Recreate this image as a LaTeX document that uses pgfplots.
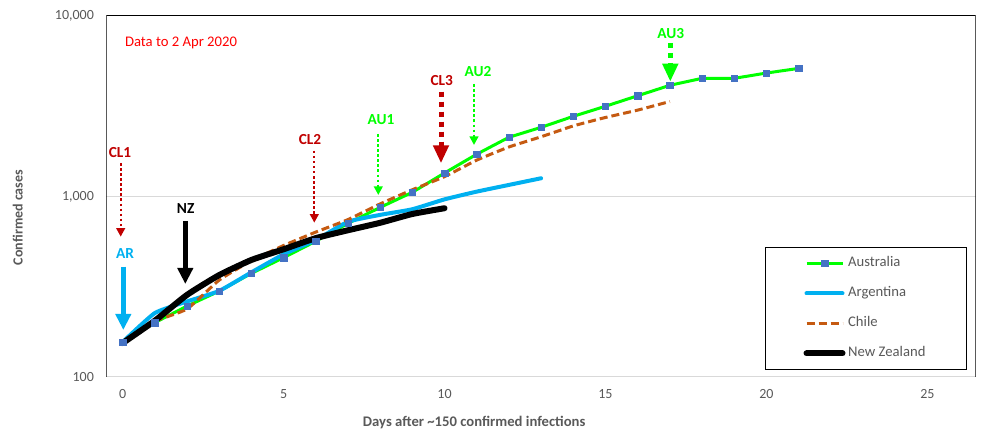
\documentclass[border=0pt]{standalone}
\usepackage{pgfplots}
\pgfplotsset{compat=1.18}
\usepackage{fontspec}
\setmainfont{Carlito}
\usetikzlibrary{arrows.meta}
\definecolor{augreen}{HTML}{00FF00}
\definecolor{arblue}{HTML}{00B0F0}
\definecolor{clorange}{HTML}{C55A11}
\definecolor{markblue}{HTML}{4472C4}
\definecolor{darkred}{HTML}{C00000}
\definecolor{tickgrey}{HTML}{595959}
\definecolor{gridgrey}{HTML}{D9D9D9}
\newcommand\fs{\fontsize{10.5}{12.6}\selectfont}
\newcommand\fsl{\fontsize{11}{13.2}\selectfont}
\newcommand\fsa{\fontsize{11.5}{13.8}\selectfont}
\begin{document}
\begin{tikzpicture}
\useasboundingbox (-79.875pt,-45.75pt) rectangle (673.125pt,282.75pt);
\begin{axis}[
  scale only axis, width=651.9pt, height=270.75pt,
  xmin=-0.5, xmax=26.5,
  ymode=log, ymin=100, ymax=10000,
  xtick={0,5,10,15,20,25},
  ytick={100,1000,10000}, yticklabels={100,{1,000},{10,000}},
  major tick length=0pt, minor tick length=0pt,
  axis line style={draw=none},
  ymajorgrids, grid style={draw=gridgrey, line width=0.75pt},
  tick label style={font=\fs, text=tickgrey},
  /pgf/number format/assume math mode=true,
  xticklabel style={anchor=center, yshift=-12.75pt},
  yticklabel style={anchor=east, xshift=-5.9pt},
  xlabel={Days after \textasciitilde150 confirmed infections},
  xlabel style={at={(axis description cs:0.423,-0.1266)}, anchor=center, font=\bfseries\fsl, text=tickgrey},
  ylabel={Confirmed cases},
  ylabel style={at={(axis description cs:-0.1022,0.4418)}, anchor=center, font=\bfseries\fs, text=tickgrey},
  legend cell align=left,
  legend style={at={(0.7576,0.3601)}, anchor=north west, draw=black, line width=0.75pt,
    inner xsep=28.5pt, inner ysep=7pt, row sep=12.5pt, font=\fsl, text=tickgrey,
    nodes={inner sep=0pt, inner xsep=2pt, text height=7.5pt, text depth=2.5pt}},
  legend image code/.code={\draw[mark repeat=2,mark phase=2,#1] plot coordinates {(0pt,0pt) (13.5pt,0pt) (27pt,0pt)};},
]
\addplot[augreen, line width=2.25pt, mark=square*, mark size=2.4pt, mark options={fill=markblue, draw=markblue, line width=0.3pt, solid}]
coordinates {(0,156) (1,200) (2,247) (3,299) (4,375) (5,458) (6,565) (7,710) (8,870) (9,1055) (10,1349) (11,1715) (12,2128) (13,2416) (14,2780) (15,3162) (16,3615) (17,4130) (18,4515) (19,4515) (20,4830) (21,5125)};
\addlegendentry{Australia}
\addplot[arblue, line width=3pt, line cap=round, smooth, tension=0.3]
coordinates {(0,156) (1,226) (2,262) (3,300) (4,380) (5,478) (6,574) (7,724) (8,791) (9,850) (10,964) (11,1064) (12,1159) (13,1262)};
\addlegendentry{Argentina}
\addplot[clorange, line width=2.25pt, dash pattern=on 6pt off 3pt, smooth, tension=0.3]
coordinates {(1,205) (2,238) (3,344) (4,440) (5,535) (6,635) (7,745) (8,910) (9,1090) (10,1288) (11,1590) (12,1880) (13,2142) (14,2460) (15,2740) (16,3010) (17,3360)};
\addlegendentry{Chile}
\addplot[black, line width=4.5pt, line cap=round, smooth, tension=0.3]
coordinates {(0,154) (1,205) (2,285) (3,367) (4,445) (5,510) (6,588) (7,650) (8,715) (9,800) (10,861)};
\addlegendentry{New Zealand}
\draw[black, line width=0.75pt] (rel axis cs:0,0) -- (rel axis cs:0,1) -- (rel axis cs:1,1) -- (rel axis cs:1,0);
\end{axis}
\begin{scope}[x=0.75pt, y=-0.75pt, shift={(-79.875pt,282.75pt)}]
\tikzset{
  thindot/.style={line width=1.7pt, dash pattern=on 1.9pt off 1.9pt, -{Triangle[length=6.5pt,width=6.5pt]}},
  thickdot/.style={line width=3.75pt, dash pattern=on 3.75pt off 3.75pt, -{Triangle[length=13.5pt,width=11.25pt]}},
  thicksolid/.style={line width=3.75pt, -{Triangle[length=12pt,width=11.25pt]}},
  lab/.style={font=\bfseries\fsa, inner sep=0pt}
}
\node[text=red, font=\fsl] at (181,43) {Data to 2 Apr 2020};
\node[lab, text=darkred] at (120,152.7) {CL1};
\draw[darkred, thindot] (120.7,163) -- (120.7,236.7);
\node[lab, text=arblue] at (125,254) {AR};
\draw[arblue, thicksolid] (123.3,266.7) -- (123.3,330);
\node[lab, text=black] at (185.7,209) {NZ};
\draw[black, thicksolid] (185.3,221) -- (185.3,284);
\node[lab, text=darkred] at (310,140) {CL2};
\draw[darkred, thindot] (314.3,150.7) -- (314.3,222.7);
\node[lab, text=augreen] at (381,120) {AU1};
\draw[augreen, thindot] (378.3,134) -- (378.3,195);
\node[lab, text=darkred] at (441.7,80.7) {CL3};
\draw[darkred, thickdot] (441,91.7) -- (441,163.3);
\node[lab, text=augreen] at (478,71.7) {AU2};
\draw[augreen, thindot] (474,84) -- (474,145);
\node[lab, text=augreen] at (670.7,34) {AU3};
\draw[augreen, thickdot] (670.3,43) -- (670.3,81.7);
\end{scope}
\end{tikzpicture}
\end{document}
